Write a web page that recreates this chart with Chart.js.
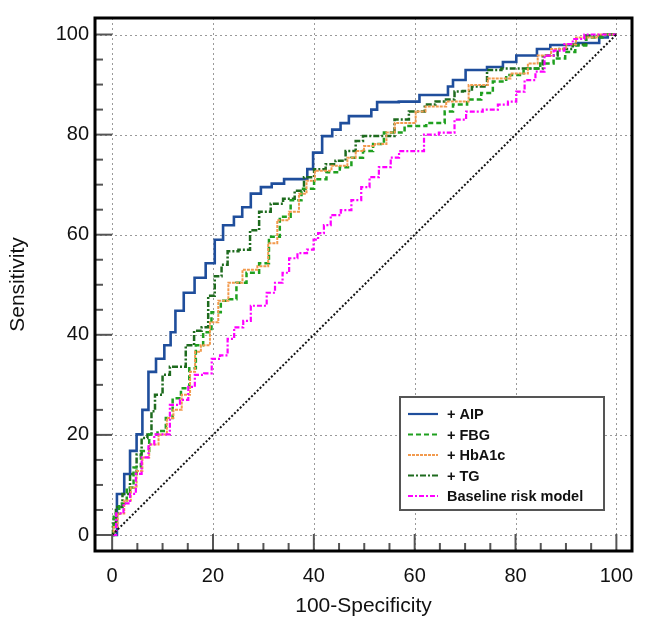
<!DOCTYPE html>
<html>
<head>
<meta charset="utf-8">
<script src="https://cdn.jsdelivr.net/npm/chart.js@4.4.1/dist/chart.umd.min.js"></script>
<style>
  html, body { margin: 0; padding: 0; background: #ffffff; }
  canvas { display: block; }
</style>
</head>
<body>
<canvas id="c" width="649" height="623"></canvas>
<script>
// ---- data: [100-Specificity, Sensitivity] vertices ----
const seriesNames = ['+ AIP', '+ FBG', '+ HbA1c', '+ TG', 'Baseline risk model'];
const xTickValues = [0, 20, 40, 60, 80, 100];
const yTickValues = [0, 20, 40, 60, 80, 100];
const minorTickValues = [0,5,10,15,20,25,30,35,40,45,50,55,60,65,70,75,80,85,90,95,100];

const aip = [[0,0],[1.9,8.2],[2.9,12.2],[4.2,16.8],[5.5,20.1],[6.5,25],[7.9,32.6],[9.5,35.2],[11.2,37.9],[12,40.5],[13.1,44.8],[15.3,48.4],[17.4,51.4],[19.7,54.3],[21,59],[23,61.9],[25.3,63.6],[26.3,65.5],[28.7,68.2],[30.3,69.5],[33,70.2],[35.2,71.1],[38.2,71.1],[39.2,73.1],[40.5,76.4],[42.8,79.7],[44.5,81],[46.1,82.3],[47.8,83.7],[51.1,83.7],[51.7,85],[53.4,86.5],[60.3,86.6],[61.6,87.9],[66.3,87.9],[66.9,89.6],[68.3,90.9],[71.9,92.9],[76.8,93.5],[78.2,94.5],[82.1,95.8],[86.4,97.1],[87.4,97.9],[96.6,98.3],[96.6,99.4],[100,100]];

const fbg = [[0,0],[0.6,4.3],[2.2,6.3],[3.6,9.5],[4.9,13.5],[6.5,16.8],[8.2,20.1],[9.8,20.8],[11.5,23.4],[12.5,27.3],[14.8,29.3],[15.8,33.3],[17.4,37.9],[18.7,40.5],[20.7,44.5],[22.4,46.8],[24,47.1],[25.3,50.4],[28,52.4],[30.3,54.3],[31.9,59.6],[34.6,63.6],[36.2,66.9],[38.9,69.2],[41.2,71.1],[43.8,72.5],[46.5,73.5],[48.4,75.4],[51.1,76.7],[52.4,78.1],[55.4,80.4],[57,80.4],[59,81.7],[65.6,82.3],[66.3,84.6],[68.9,86],[71.9,87],[74.5,88.3],[76.5,90.6],[79.8,91.9],[83.4,93.2],[86.4,94.2],[88.7,95.2],[91,96.5],[92.7,97.8],[95.3,99.4],[100,100]];

const hba1c = [[0,0],[0.6,1.6],[1.6,4.3],[3.2,6.9],[4.2,9.5],[5.5,12.8],[6.5,15.5],[8.2,18.1],[10.2,20.1],[11.5,23.4],[12.8,25],[14.8,28],[16.1,32.6],[16.8,36.6],[18.4,37.9],[20.4,42.5],[21.7,46.8],[24.4,50.4],[27.3,53],[30.3,53.7],[31.6,58.3],[33.9,62.9],[36.2,64.6],[37.9,68.2],[39.2,70.8],[41.2,72.8],[45.8,73.8],[47.5,75.4],[49.1,76.7],[50.8,77.7],[53.4,78.1],[55.4,80.4],[56.7,82.3],[59.7,82.3],[60.7,84.6],[63.6,85.6],[68.9,86.6],[72.5,89.9],[76.5,91.2],[81.5,92.2],[83.4,94.2],[85.4,95.8],[88.7,97.1],[91.3,98],[92.7,99.4],[100,100]];

const tg = [[0,0],[0.3,2.3],[1.2,5.6],[2.9,8.2],[4.2,12.2],[5.5,16.1],[6.2,19.4],[7.8,20.1],[7.8,24.7],[9.2,28],[10.8,32],[12.1,33.6],[13.8,33.6],[15.4,37.9],[17.1,40.8],[18.4,41.5],[19.7,47.8],[21,51.7],[22.4,54],[23.4,56.7],[26.7,57],[28,60.9],[30.3,64.6],[32.6,66.2],[35.2,67.2],[37.2,68.8],[38.9,71.5],[41.2,73.1],[43.5,74.1],[45.1,74.8],[47.5,76.7],[49.1,78.7],[50.4,79.7],[55,79.7],[57,83],[60.7,84.6],[63.3,86],[65,86.6],[66.9,87],[68.9,88.6],[70.2,88.7],[72.5,89.6],[76.2,92.9],[78.2,93.2],[84.1,93.2],[86.7,95.8],[90,97.1],[92.7,98],[95.3,99.8],[100,100]];

const baseline = [[0,0],[1.6,4.3],[2.9,6.3],[4.2,8.2],[5.2,12.2],[6.5,15.5],[7.9,18.1],[8.8,20.1],[10.8,20.1],[12.1,26],[14.8,27],[15.4,29.6],[17.4,32],[19.1,32.3],[20.4,35.2],[22.4,35.9],[23.4,39.2],[25,41.5],[27,42.8],[28,45.8],[30,45.8],[31.3,48.4],[33.3,50.4],[34.3,52.4],[35.9,55.3],[37.6,56.3],[39.7,57],[40.2,59],[41.5,60.3],[42.5,61.9],[44.2,63.9],[46.5,64.9],[48.4,66.9],[50.4,69.5],[51.7,71.5],[54.1,73.5],[56.4,75.4],[57.4,76.7],[61,76.7],[62.7,80],[66.9,80.4],[68.9,83],[71.5,84.6],[75.5,85],[77.5,86],[79.5,86.6],[80.8,88.6],[82.8,90.9],[85.1,92.6],[86.4,95.8],[88.7,96.8],[90.7,98.1],[92,99.1],[95.3,100],[100,100]];

const chanceLine = [[0,0],[100,100]];

// ---- styles ----
const FONT = "'Liberation Sans', Arial, Helvetica, sans-serif";
const toXY = arr => arr.map(p => ({x: p[0], y: p[1]}));

const curveDefs = [
  {label: seriesNames[4], data: baseline, color: '#FF00FF', width: 2.2, dash: [5,2,2,2]},
  {label: seriesNames[2], data: hba1c, color: '#F29A4E', width: 2, dash: [3,1]},
  {label: seriesNames[1], data: fbg, color: '#1FA01F', width: 2.5, dash: [5,3]},
  {label: seriesNames[3], data: tg, color: '#1E6B1E', width: 2.5, dash: [6,2,2,2]},
  {label: seriesNames[0], data: aip, color: '#1F4E9C', width: 2.6, dash: []}
];

const datasets = [{
  label: 'chance',
  data: toXY(chanceLine),
  borderColor: '#111111',
  borderWidth: 2,
  borderDash: [2, 2],
  pointRadius: 0,
  fill: false
}].concat(curveDefs.map(d => ({
  label: d.label,
  data: toXY(d.data),
  borderColor: d.color,
  backgroundColor: d.color,
  borderWidth: d.width,
  borderDash: d.dash,
  pointRadius: 0,
  stepped: 'middle',
  fill: false
})));

const legendOrder = [seriesNames[0], seriesNames[1], seriesNames[2], seriesNames[3], seriesNames[4]];

// grid (dotted, behind data)
const gridPlugin = {
  id: 'gridPlugin',
  beforeDatasetsDraw(chart) {
    const {ctx, chartArea: a, scales: {x, y}} = chart;
    ctx.save();
    ctx.strokeStyle = '#9a9a9a';
    ctx.lineWidth = 1;
    ctx.setLineDash([2, 3]);
    xTickValues.forEach(v => {
      const px = Math.round(x.getPixelForValue(v)) + 0.5;
      ctx.beginPath(); ctx.moveTo(px, a.top); ctx.lineTo(px, a.bottom); ctx.stroke();
    });
    yTickValues.forEach(v => {
      const py = Math.round(y.getPixelForValue(v)) + 0.5;
      ctx.beginPath(); ctx.moveTo(a.left, py); ctx.lineTo(a.right, py); ctx.stroke();
    });
    ctx.restore();
  }
};

// frame, inner tick marks, legend
const framePlugin = {
  id: 'framePlugin',
  afterDraw(chart) {
    const {ctx, chartArea: a, scales: {x, y}} = chart;
    ctx.save();
    ctx.strokeStyle = '#555555';
    ctx.lineWidth = 2;
    ctx.setLineDash([]);
    minorTickValues.forEach(v => {
      const major = v % 20 === 0;
      const len = major ? 17 : 8;
      const px = x.getPixelForValue(v);
      ctx.beginPath(); ctx.moveTo(px, a.bottom); ctx.lineTo(px, a.bottom - len); ctx.stroke();
      const py = y.getPixelForValue(v);
      ctx.beginPath(); ctx.moveTo(a.left, py); ctx.lineTo(a.left + len, py); ctx.stroke();
    });
    ctx.strokeStyle = '#000000';
    ctx.lineWidth = 3;
    ctx.strokeRect(a.left, a.top, a.right - a.left, a.bottom - a.top);

    // legend
    const bw = 204, bh = 113;
    const bx = a.right - 28 - bw, by = a.bottom - 41 - bh;
    ctx.fillStyle = '#ffffff';
    ctx.fillRect(bx, by, bw, bh);
    ctx.strokeStyle = '#555555';
    ctx.lineWidth = 2;
    ctx.strokeRect(bx, by, bw, bh);
    ctx.font = 'bold 14.5px ' + FONT;
    ctx.textBaseline = 'middle';
    ctx.textAlign = 'left';
    legendOrder.forEach((name, i) => {
      const ds = chart.data.datasets.find(d => d.label === name);
      const ry = by + 17 + i * 20.5;
      ctx.strokeStyle = ds.borderColor;
      ctx.lineWidth = Math.min(ds.borderWidth, 2.2);
      ctx.setLineDash(ds.borderDash);
      ctx.beginPath(); ctx.moveTo(bx + 8, ry); ctx.lineTo(bx + 38, ry); ctx.stroke();
      ctx.setLineDash([]);
      ctx.fillStyle = '#111111';
      ctx.fillText(name, bx + 47, ry + 1);
    });
    ctx.restore();
  }
};

new Chart(document.getElementById('c'), {
  type: 'line',
  data: { datasets },
  options: {
    responsive: false,
    animation: false,
    devicePixelRatio: 1,
    layout: { padding: { top: 12, right: 17, left: 0, bottom: 0 } },
    plugins: { legend: { display: false }, tooltip: { enabled: false } },
    scales: {
      x: {
        type: 'linear',
        min: -3.4, max: 103.1,
        afterBuildTicks: s => { s.ticks = xTickValues.map(v => ({value: v})); },
        afterFit: s => { s.height = 72; },
        grid: { display: false, drawTicks: false },
        border: { display: false },
        ticks: { font: { size: 20, family: FONT }, color: '#111111', padding: 13, maxRotation: 0, autoSkip: false },
        title: { display: true, text: '100-Specificity', color: '#111111', font: { size: 21, family: FONT }, padding: { top: 0, bottom: 4 } }
      },
      y: {
        type: 'linear',
        min: -3.2, max: 103.3,
        afterBuildTicks: s => { s.ticks = yTickValues.map(v => ({value: v})); },
        afterFit: s => { s.width = 95; },
        grid: { display: false, drawTicks: false },
        border: { display: false },
        ticks: { font: { size: 20, family: FONT }, color: '#111111', padding: 6, autoSkip: false },
        title: { display: true, text: 'Sensitivity', color: '#111111', font: { size: 21, family: FONT }, padding: { top: 6, bottom: 0 } }
      }
    }
  },
  plugins: [gridPlugin, framePlugin]
});
</script>
</body>
</html>
